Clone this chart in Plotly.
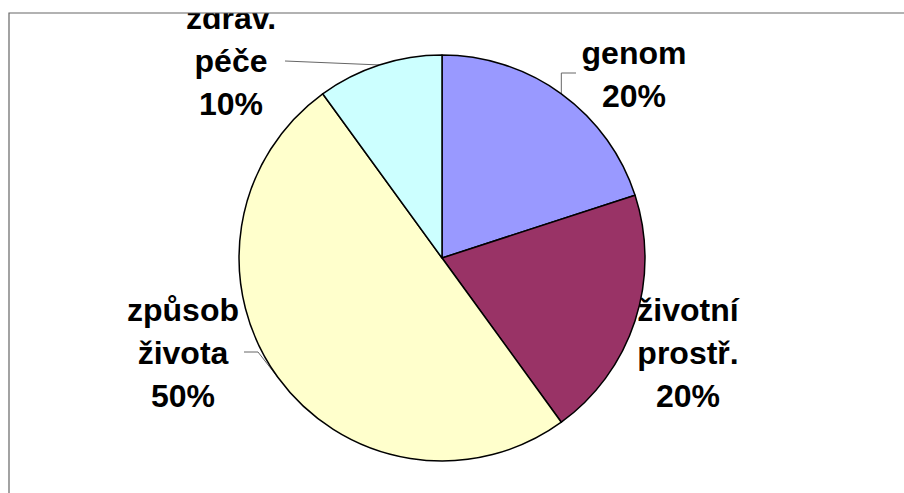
import math
import plotly.graph_objects as go

# ---- data ----
categories = ["genom", "životní prostř.", "způsob života", "zdrav. péče"]
values = [20, 20, 50, 10]
colors = ["#9999FF", "#993366", "#FFFFCC", "#CCFFFF"]

# ---- layout (pixel geometry) ----
W, H = 904, 493
cx, cy, R = 442, 258, 203            # pie centre / radius in pixels
frame_left, frame_top = 9, 13
label_center_x = {"genom": 634, "životní prostř.": 688, "způsob života": 183, "zdrav. péče": 231}
label_first_y = {"genom": 56, "životní prostř.": 313, "způsob života": 313, "zdrav. péče": 21}
line_gap = 43
# leader line start + optional elbow ("v": elbow above the edge point, number: fixed x elbow)
leader = {
    "genom": ((576, 73), "v"),
    "zdrav. péče": ((285, 61), None),
    "způsob života": ((244, 352), 258),
}

fig = go.Figure()

# Pie
fig.add_trace(go.Pie(
    labels=categories, values=values, sort=False, direction="clockwise", rotation=0,
    marker=dict(colors=colors, line=dict(color="black", width=1.5)),
    textinfo="none", hoverinfo="skip", showlegend=False,
    domain=dict(x=[(cx - R) / W, (cx + R) / W], y=[(H - cy - R) / H, (H - cy + R) / H]),
))

# mid angles (clockwise from 12 o'clock) from the data
total = sum(values)
cum = 0
mid = {}
for c, v in zip(categories, values):
    mid[c] = (cum + v / 2) / total * 2 * math.pi
    cum += v

# leader lines
for c, (start, elbow) in leader.items():
    ex = cx + R * math.sin(mid[c])
    ey = cy - R * math.cos(mid[c])
    xs, ys = [start[0]], [start[1]]
    if elbow == "v":
        xs.append(ex); ys.append(start[1])
    elif elbow is not None:
        xs.append(elbow); ys.append(start[1])
    xs.append(ex); ys.append(ey)
    fig.add_trace(go.Scatter(x=xs, y=ys, mode="lines", line=dict(color="#666666", width=1),
                             hoverinfo="skip", showlegend=False))

# labels (text lines)
tx, ty, tt = [], [], []
for c, v in zip(categories, values):
    lines = c.split(" ") + [f"{v}%"]
    for i, ln in enumerate(lines):
        tx.append(label_center_x[c])
        ty.append(label_first_y[c] + i * line_gap)
        tt.append(ln)
fig.add_trace(go.Scatter(
    x=tx, y=ty, text=tt, mode="text", textposition="middle center",
    textfont=dict(family="Liberation Sans, Arial, sans-serif", size=32, color="black", weight="bold"),
    hoverinfo="skip", showlegend=False, cliponaxis=True,
))

# frame (left + top border, open to the right/bottom)
fx = frame_left / W
fy = (H - frame_top) / H
fig.add_shape(type="path", xref="paper", yref="paper",
              path=f"M {fx},-0.1 L {fx},{fy} L 1.1,{fy}",
              line=dict(color="#666666", width=1.2), layer="above")

fig.update_layout(
    width=W, height=H, margin=dict(l=0, r=0, t=0, b=0),
    paper_bgcolor="white", plot_bgcolor="rgba(0,0,0,0)",
    xaxis=dict(domain=[frame_left / W, 1], range=[frame_left, W], visible=False),
    yaxis=dict(domain=[0, (H - frame_top) / H], range=[H, frame_top], visible=False),
)

fig.write_html(
    "out.html",
    config={"displayModeBar": False, "staticPlot": True},
    post_script="document.body.style.margin='0';document.body.style.overflow='hidden';",
)
